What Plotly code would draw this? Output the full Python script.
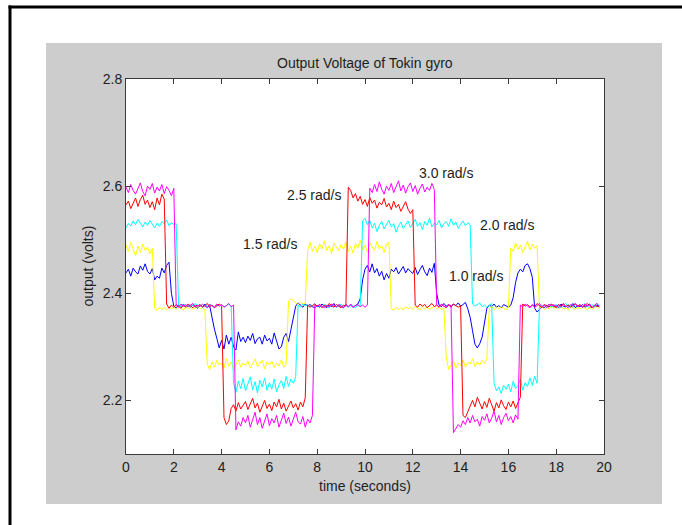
import plotly.graph_objects as go

# ---------------- data ----------------
# sampling instants (s): 0.0 ... 19.8 every 0.1 s
time_s = [round(i * 0.1, 1) for i in range(199)]

blue_1_0 = [
    2.438, 2.445, 2.432, 2.447, 2.440, 2.436, 2.451, 2.443, 2.455, 2.441,
    2.436, 2.446, 2.425, 2.432, 2.428, 2.447, 2.438, 2.452, 2.458, 2.400,
    2.376, 2.372, 2.378, 2.375, 2.380, 2.373, 2.377, 2.374, 2.379, 2.376,
    2.372, 2.378, 2.375, 2.380, 2.374, 2.377, 2.352, 2.333, 2.316, 2.298,
    2.312, 2.296, 2.322, 2.305, 2.318, 2.300, 2.294, 2.328, 2.310, 2.318,
    2.308, 2.320, 2.312, 2.325, 2.306, 2.315, 2.318, 2.305, 2.322, 2.311,
    2.316, 2.305, 2.326, 2.312, 2.296, 2.300, 2.318, 2.325, 2.310, 2.332,
    2.352, 2.376, 2.382, 2.378, 2.374, 2.380, 2.376, 2.379, 2.375, 2.373,
    2.377, 2.374, 2.380, 2.376, 2.373, 2.378, 2.375, 2.381, 2.374, 2.377,
    2.376, 2.373, 2.379, 2.375, 2.378, 2.374, 2.377, 2.380, 2.390, 2.425,
    2.445, 2.452, 2.440, 2.455, 2.438, 2.446, 2.432, 2.441, 2.425, 2.437,
    2.428, 2.445, 2.440, 2.448, 2.436, 2.443, 2.450, 2.438, 2.446, 2.441,
    2.437, 2.448, 2.435, 2.444, 2.452, 2.440, 2.433, 2.447, 2.439, 2.456,
    2.400, 2.378, 2.375, 2.381, 2.376, 2.379, 2.374, 2.380, 2.377, 2.382,
    2.376, 2.379, 2.383, 2.371, 2.355, 2.330, 2.305, 2.298, 2.306, 2.318,
    2.345, 2.372, 2.378, 2.375, 2.380, 2.374, 2.377, 2.373, 2.379, 2.376,
    2.374, 2.378, 2.392, 2.420, 2.438, 2.445, 2.440, 2.452, 2.455, 2.446,
    2.430, 2.372, 2.365, 2.370, 2.376, 2.373, 2.378, 2.375, 2.379, 2.374,
    2.377, 2.373, 2.380, 2.376, 2.374, 2.378, 2.375, 2.381, 2.373, 2.377,
    2.375, 2.379, 2.374, 2.377, 2.380, 2.373, 2.376, 2.378, 2.374,
]

yellow_1_5 = [
    2.490, 2.478, 2.495, 2.482, 2.470, 2.488, 2.476, 2.492, 2.480, 2.486,
    2.474, 2.484, 2.372, 2.368, 2.374, 2.370, 2.373, 2.369, 2.375, 2.371,
    2.374, 2.370, 2.376, 2.372, 2.369, 2.375, 2.371, 2.374, 2.370, 2.373,
    2.376, 2.371, 2.374, 2.368, 2.268, 2.258, 2.272, 2.262, 2.275, 2.266,
    2.270, 2.260, 2.278, 2.264, 2.272, 2.258, 2.268, 2.276, 2.262, 2.270,
    2.265, 2.274, 2.260, 2.270, 2.278, 2.263, 2.268, 2.275, 2.259, 2.272,
    2.266, 2.273, 2.261, 2.270, 2.264, 2.276, 2.262, 2.268, 2.385, 2.390,
    2.386, 2.382, 2.379, 2.383, 2.380, 2.381, 2.480, 2.495, 2.478, 2.488,
    2.476, 2.492, 2.483, 2.498, 2.480, 2.489, 2.474, 2.494, 2.485, 2.479,
    2.491, 2.482, 2.496, 2.478, 2.488, 2.475, 2.493, 2.484, 2.499, 2.481,
    2.490, 2.477, 2.494, 2.486, 2.480, 2.497, 2.483, 2.489, 2.476, 2.492,
    2.495, 2.372, 2.368, 2.374, 2.370, 2.373, 2.369, 2.375, 2.371, 2.374,
    2.370, 2.376, 2.372, 2.369, 2.375, 2.371, 2.374, 2.370, 2.373, 2.376,
    2.371, 2.374, 2.369, 2.373, 2.280, 2.258, 2.266, 2.274, 2.260, 2.270,
    2.265, 2.276, 2.262, 2.271, 2.268, 2.278, 2.263, 2.272, 2.266, 2.275,
    2.269, 2.278, 2.372, 2.376, 2.370, 2.374, 2.371, 2.375, 2.372, 2.369,
    2.373, 2.485, 2.478, 2.494, 2.482, 2.490, 2.476, 2.488, 2.497, 2.481,
    2.492, 2.484, 2.489, 2.372, 2.375, 2.370, 2.374, 2.371, 2.376, 2.372,
    2.374, 2.370, 2.375, 2.371, 2.373, 2.369, 2.376, 2.372, 2.370, 2.374,
    2.371, 2.375, 2.372, 2.369, 2.374, 2.370, 2.373, 2.376, 2.371,
]

cyan_2_0 = [
    2.522, 2.530, 2.526, 2.535, 2.528, 2.538, 2.531, 2.524, 2.533, 2.527,
    2.536, 2.529, 2.522, 2.531, 2.525, 2.534, 2.530, 2.537, 2.526, 2.532,
    2.528, 2.530, 2.378, 2.375, 2.380, 2.376, 2.379, 2.374, 2.377, 2.381,
    2.376, 2.379, 2.374, 2.378, 2.375, 2.380, 2.377, 2.373, 2.378, 2.376,
    2.379, 2.375, 2.377, 2.380, 2.376, 2.232, 2.215, 2.236, 2.222, 2.241,
    2.218, 2.230, 2.244, 2.220, 2.235, 2.214, 2.238, 2.225, 2.242, 2.219,
    2.233, 2.221, 2.240, 2.216, 2.229, 2.237, 2.222, 2.245, 2.226, 2.240,
    2.232, 2.244, 2.378, 2.374, 2.380, 2.376, 2.379, 2.375, 2.377, 2.381,
    2.375, 2.378, 2.374, 2.380, 2.376, 2.373, 2.379, 2.377, 2.374, 2.378,
    2.380, 2.375, 2.377, 2.374, 2.379, 2.376, 2.373, 2.378, 2.376, 2.535,
    2.540, 2.528, 2.536, 2.522, 2.531, 2.515, 2.527, 2.534, 2.520, 2.529,
    2.536, 2.524, 2.530, 2.514, 2.526, 2.533, 2.521, 2.528, 2.535, 2.523,
    2.530, 2.538, 2.525, 2.532, 2.519, 2.534, 2.527, 2.540, 2.524, 2.531,
    2.528, 2.536, 2.522, 2.530, 2.534, 2.525, 2.539, 2.527, 2.533, 2.521,
    2.529, 2.535, 2.526, 2.532, 2.528, 2.380, 2.376, 2.379, 2.382, 2.375,
    2.378, 2.374, 2.377, 2.381, 2.232, 2.218, 2.225, 2.213, 2.228, 2.221,
    2.230, 2.216, 2.236, 2.222, 2.228, 2.240, 2.219, 2.233, 2.226, 2.242,
    2.228, 2.245, 2.232, 2.378, 2.375, 2.379, 2.376, 2.380, 2.374, 2.377,
    2.379, 2.376, 2.373, 2.378, 2.381, 2.375, 2.377, 2.374, 2.380, 2.376,
    2.378, 2.374, 2.381, 2.376, 2.373, 2.379, 2.375, 2.382, 2.377,
]

red_2_5 = [
    2.565, 2.572, 2.558, 2.568, 2.578, 2.562, 2.575, 2.583, 2.566, 2.574,
    2.560, 2.571, 2.556, 2.578, 2.565, 2.585, 2.576, 2.380, 2.372, 2.378,
    2.374, 2.379, 2.376, 2.372, 2.378, 2.375, 2.380, 2.377, 2.373, 2.378,
    2.376, 2.379, 2.374, 2.377, 2.381, 2.375, 2.378, 2.373, 2.377, 2.380,
    2.376, 2.168, 2.155, 2.162, 2.185, 2.192, 2.180, 2.196, 2.184, 2.190,
    2.198, 2.183, 2.192, 2.204, 2.186, 2.195, 2.178, 2.190, 2.200, 2.185,
    2.193, 2.181, 2.197, 2.188, 2.202, 2.184, 2.195, 2.180, 2.191, 2.199,
    2.186, 2.194, 2.182, 2.197, 2.188, 2.205, 2.378, 2.374, 2.377, 2.380,
    2.376, 2.379, 2.373, 2.378, 2.375, 2.381, 2.377, 2.374, 2.379, 2.376,
    2.373, 2.378, 2.376, 2.598, 2.592, 2.578, 2.586, 2.572, 2.581, 2.566,
    2.575, 2.562, 2.579, 2.568, 2.574, 2.559, 2.570, 2.565, 2.577, 2.561,
    2.568, 2.556, 2.572, 2.560, 2.566, 2.553, 2.563, 2.571, 2.557, 2.549,
    2.556, 2.378, 2.374, 2.380, 2.376, 2.379, 2.373, 2.377, 2.381, 2.375,
    2.378, 2.374, 2.379, 2.376, 2.373, 2.378, 2.375, 2.380, 2.377, 2.374,
    2.377, 2.172, 2.168, 2.180, 2.192, 2.200, 2.188, 2.206, 2.195, 2.184,
    2.198, 2.187, 2.204, 2.192, 2.180, 2.196, 2.186, 2.201, 2.190, 2.183,
    2.197, 2.188, 2.199, 2.185, 2.194, 2.206, 2.380, 2.376, 2.379, 2.374,
    2.378, 2.375, 2.381, 2.376, 2.373, 2.379, 2.377, 2.374, 2.380, 2.376,
    2.373, 2.379, 2.376, 2.381, 2.375, 2.378, 2.374, 2.377, 2.380, 2.376,
    2.379, 2.374, 2.377, 2.381, 2.376, 2.373, 2.378, 2.375, 2.377,
]

magenta_3_0 = [
    2.598, 2.588, 2.603, 2.592, 2.585, 2.596, 2.606, 2.590, 2.582, 2.600,
    2.594, 2.605, 2.587, 2.598, 2.591, 2.603, 2.586, 2.599, 2.592, 2.582,
    2.596, 2.377, 2.374, 2.380, 2.376, 2.379, 2.375, 2.378, 2.381, 2.374,
    2.378, 2.375, 2.380, 2.376, 2.373, 2.379, 2.377, 2.374, 2.380, 2.376,
    2.379, 2.374, 2.377, 2.381, 2.375, 2.378, 2.145, 2.160, 2.152, 2.168,
    2.158, 2.172, 2.150, 2.165, 2.178, 2.155, 2.168, 2.148, 2.162, 2.175,
    2.153, 2.166, 2.158, 2.172, 2.150, 2.163, 2.176, 2.157, 2.169, 2.152,
    2.165, 2.178, 2.160, 2.156, 2.170, 2.150, 2.165, 2.158, 2.172, 2.378,
    2.375, 2.379, 2.376, 2.373, 2.378, 2.374, 2.380, 2.377, 2.375, 2.379,
    2.376, 2.373, 2.378, 2.375, 2.380, 2.374, 2.377, 2.379, 2.375, 2.378,
    2.374, 2.378, 2.596, 2.588, 2.603, 2.590, 2.608, 2.594, 2.585, 2.600,
    2.592, 2.605, 2.588, 2.598, 2.610, 2.591, 2.602, 2.587, 2.599, 2.606,
    2.590, 2.601, 2.585, 2.596, 2.604, 2.589, 2.598, 2.592, 2.605, 2.594,
    2.378, 2.375, 2.380, 2.376, 2.374, 2.379, 2.377, 2.140, 2.148, 2.155,
    2.150, 2.162, 2.155, 2.168, 2.158, 2.172, 2.160, 2.165, 2.152, 2.170,
    2.163, 2.175, 2.158, 2.167, 2.180, 2.160, 2.172, 2.155, 2.168, 2.176,
    2.162, 2.170, 2.158, 2.173, 2.165, 2.378, 2.375, 2.380, 2.376, 2.373,
    2.379, 2.374, 2.377, 2.381, 2.375, 2.378, 2.373, 2.380, 2.376, 2.379,
    2.375, 2.378, 2.374, 2.380, 2.376, 2.373, 2.379, 2.377, 2.381, 2.375,
    2.378, 2.374, 2.380, 2.376, 2.379, 2.373, 2.377, 2.381, 2.375,
]

series_names = ["1.0 rad/s", "1.5 rad/s", "2.0 rad/s", "2.5 rad/s", "3.0 rad/s"]
series_values = [blue_1_0, yellow_1_5, cyan_2_0, red_2_5, magenta_3_0]

label_text = ["1.0 rad/s", "1.5 rad/s", "2.0 rad/s", "2.5 rad/s", "3.0 rad/s"]
label_x = [14.64, 6.03, 15.94, 7.87, 13.39]
label_y = [2.432, 2.492, 2.5275, 2.5835, 2.6245]

x_ticks = [0, 2, 4, 6, 8, 10, 12, 14, 16, 18, 20]
y_ticks = [2.2, 2.4, 2.6, 2.8]
y_tick_text = ["2.2", "2.4", "2.6", "2.8"]

title_text = "Output Voltage of Tokin gyro"
x_title = "time (seconds)"
y_title = "output (volts)"

# ---------------- styling ----------------
colors = ["#0000FF", "#FFFF00", "#00FFFF", "#FF0000", "#FF00FF"]
W, H = 682, 525
L, R, T, B = 126, 604, 79, 454   # plot box in pixels
FONT = "Liberation Sans, Arial, sans-serif"
TXT = "#1e1e1e"
AXC = "#3a3a3a"


def px_x(p):
    return (p - L) / (R - L)


def px_y(p):
    return (B - p) / (B - T)


fig = go.Figure()
for name, vals, col in zip(series_names, series_values, colors):
    n = min(len(vals), len(time_s))
    fig.add_trace(go.Scatter(x=time_s[:n], y=vals[:n], mode="lines", name=name,
                             line=dict(color=col, width=1), hoverinfo="skip"))

shapes = []
# white surround outside the grey figure area
for (x0, y0, x1, y1) in [(-20, -20, 46, H + 20), (662, -20, W + 20, H + 20),
                         (-20, -20, W + 20, 43), (-20, 504, W + 20, H + 20)]:
    shapes.append(dict(type="rect", xref="paper", yref="paper",
                       x0=px_x(x0), x1=px_x(x1), y0=px_y(y1), y1=px_y(y0),
                       fillcolor="white", line=dict(width=0), layer="below"))
# black page border (left and top)
for (x0, y0, x1, y1) in [(8.5, 5.5, 11.5, H + 20), (8.5, 5.5, W + 20, 8.5)]:
    shapes.append(dict(type="rect", xref="paper", yref="paper",
                       x0=px_x(x0), x1=px_x(x1), y0=px_y(y1), y1=px_y(y0),
                       fillcolor="black", line=dict(width=0), layer="above"))

annotations = [
    dict(text=title_text, xref="paper", yref="paper", x=0.5, y=px_y(63),
         xanchor="center", yanchor="middle", showarrow=False,
         font=dict(family=FONT, size=14, color=TXT)),
    dict(text=x_title, xref="paper", yref="paper", x=0.5, y=px_y(486),
         xanchor="center", yanchor="middle", showarrow=False,
         font=dict(family=FONT, size=14, color=TXT)),
    dict(text=y_title, xref="paper", yref="paper", x=px_x(87), y=0.5,
         xanchor="center", yanchor="middle", showarrow=False, textangle=-90,
         font=dict(family=FONT, size=14, color=TXT)),
]
for t, x, y in zip(label_text, label_x, label_y):
    annotations.append(dict(text=t, x=x, y=y, xref="x", yref="y",
                            xanchor="center", yanchor="middle", showarrow=False,
                            font=dict(family=FONT, size=14, color=TXT)))

axis_common = dict(showgrid=False, zeroline=False, showline=True, linecolor=AXC,
                   linewidth=1, mirror="ticks", ticks="inside", ticklen=5,
                   tickcolor=AXC, tickwidth=1,
                   tickfont=dict(family=FONT, size=14, color=TXT))

fig.update_layout(
    width=W, height=H, autosize=False,
    margin=dict(l=L, r=W - R, t=T, b=H - B, pad=0),
    paper_bgcolor="#cdcdcd", plot_bgcolor="white",
    showlegend=False,
    shapes=shapes, annotations=annotations,
    xaxis=dict(range=[0, 20], tickmode="array", tickvals=x_ticks,
               ticktext=[str(v) for v in x_ticks], **axis_common),
    yaxis=dict(range=[2.1, 2.8], tickmode="array", tickvals=y_ticks,
               ticktext=y_tick_text, **axis_common),
)

fig.write_html(
    "out.html",
    config={"displayModeBar": False},
    post_script=("document.body.style.margin='0';"
                 "document.body.style.overflow='hidden';"
                 "document.documentElement.style.overflow='hidden';"),
)
